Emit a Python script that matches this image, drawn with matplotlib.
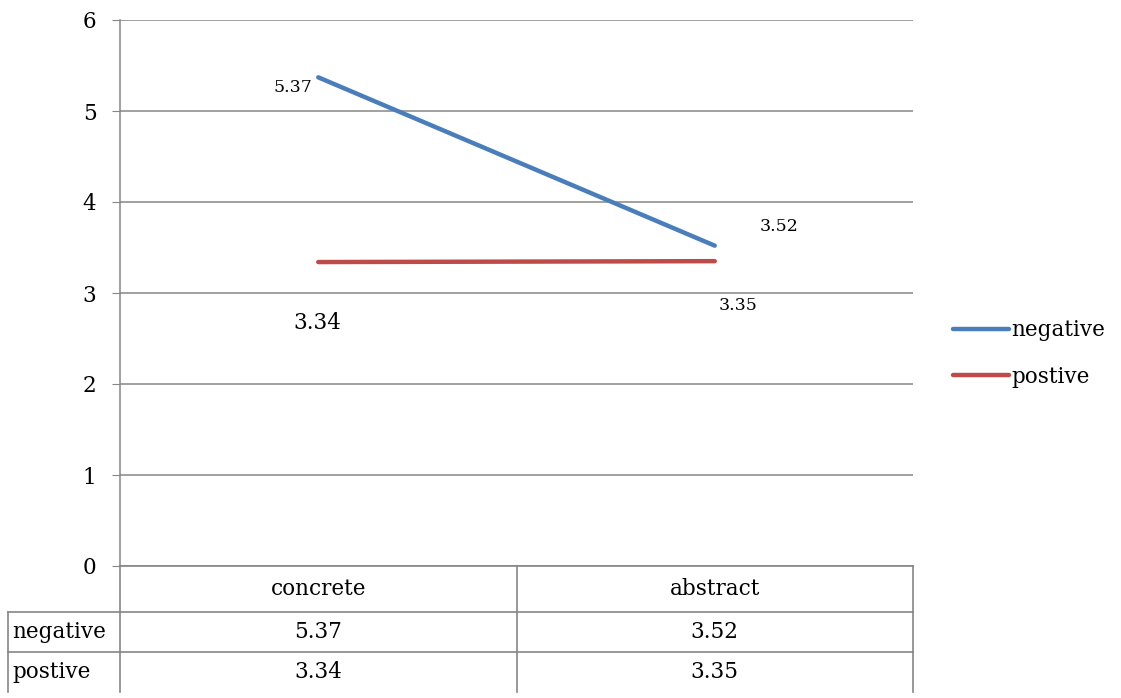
import matplotlib
matplotlib.use("Agg")
import matplotlib.pyplot as plt
from matplotlib.lines import Line2D

plt.rcParams['font.family'] = ['DejaVu Serif']

categories = ["concrete", "abstract"]
series_names = ["negative", "postive"]
negative = [5.37, 3.52]
postive = [3.34, 3.35]
y_ticks = [0, 1, 2, 3, 4, 5, 6]

colors = ["#4A7EBB", "#BE4B48"]
grid_c = "#868686"
FS = 15.5
FS_SMALL = 12.5

W, H = 1121, 698
fig = plt.figure(figsize=(W / 100, H / 100), dpi=100)

# plot area in pixels
L, R, T, B = 120, 913, 20, 566
ax = fig.add_axes([L / W, 1 - B / H, (R - L) / W, (B - T) / H])
ax.set_xlim(0, len(categories))
ax.set_ylim(0, 6)
ax.set_yticks(y_ticks)
ax.set_yticklabels([str(t) for t in y_ticks], fontsize=FS)
ax.set_xticks([])
ax.tick_params(axis='y', length=6, color=grid_c, pad=11)
for s in ["top", "right", "bottom"]:
    ax.spines[s].set_visible(False)
ax.spines["left"].set_color(grid_c)
ax.spines["left"].set_linewidth(1.1)
for t in y_ticks:
    ax.axhline(t, color=grid_c, lw=1.1, zorder=1)

xs = [i + 0.5 for i in range(len(categories))]
series = [negative, postive]
for vals, c, name in zip(series, colors, series_names):
    ax.plot(xs, vals, color=c, lw=3.2, solid_capstyle='round', zorder=3, label=name)

# data labels
label_specs = [
    (xs[0], negative[0], (-4, -7), 'right', 'center', FS_SMALL),
    (xs[1], negative[1], (32, 14), 'left', 'center', FS_SMALL),
    (xs[0], postive[0], (-1, -44), 'center', 'center', FS),
    (xs[1], postive[1], (17, -32), 'center', 'center', FS_SMALL),
]
for x, v, off, ha, va, fs in label_specs:
    ax.annotate(f"{v:.2f}", (x, v), xytext=off, textcoords='offset points',
                ha=ha, va=va, fontsize=fs)

# legend
handles = [Line2D([], [], color=c, lw=3.2, solid_capstyle='round') for c in colors]
fig.legend(handles, series_names, loc='center left',
           bbox_to_anchor=(953 / W, 1 - 353.5 / H), frameon=False, fontsize=FS,
           handlelength=2.6, handletextpad=0.1, labelspacing=1.15,
           borderaxespad=0, borderpad=0)

# data table beneath the plot
ov = fig.add_axes([0, 0, 1, 1], facecolor='none')
ov.set_xlim(0, W)
ov.set_ylim(H, 0)
ov.axis('off')
left_col = 8
mid = (L + R) / 2
rows_y = [566, 612, 652, 692]
kw = dict(color=grid_c, lw=1.2)
# horizontal rules
ov.plot([L, R], [rows_y[0], rows_y[0]], **kw)
ov.plot([left_col, R], [rows_y[1], rows_y[1]], **kw)
ov.plot([left_col, R], [rows_y[2], rows_y[2]], **kw)
# vertical rules
ov.plot([L, L], [rows_y[0], rows_y[3]], **kw)
ov.plot([mid, mid], [rows_y[0], rows_y[3]], **kw)
ov.plot([R, R], [rows_y[0], rows_y[3]], **kw)
ov.plot([left_col, left_col], [rows_y[1], rows_y[3]], **kw)

col_centers = [(L + mid) / 2, (mid + R) / 2]
for cx, cat in zip(col_centers, categories):
    ov.text(cx, (rows_y[0] + rows_y[1]) / 2, cat, ha='center', va='center', fontsize=FS)
for r, (name, vals) in enumerate(zip(series_names, series)):
    cy = (rows_y[r + 1] + rows_y[r + 2]) / 2
    ov.text(left_col + 4, cy, name, ha='left', va='center', fontsize=FS)
    for cx, v in zip(col_centers, vals):
        ov.text(cx, cy, f"{v:.2f}", ha='center', va='center', fontsize=FS)

fig.savefig("out.png", dpi=100, facecolor='white')
